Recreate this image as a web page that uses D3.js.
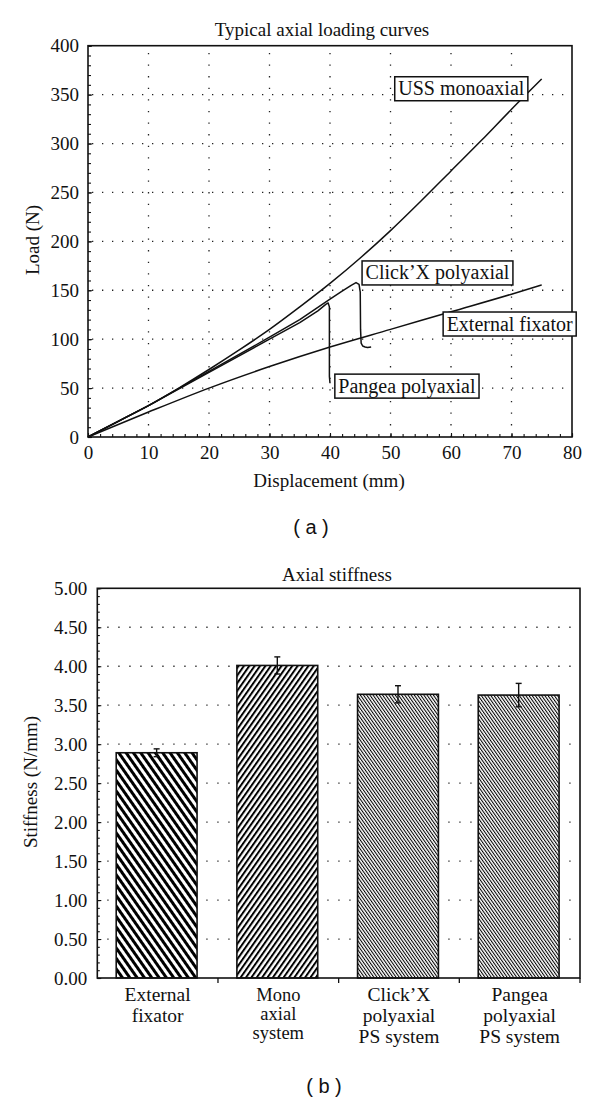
<!DOCTYPE html>
<html><head><meta charset="utf-8">
<script src="https://cdn.jsdelivr.net/npm/d3@7"></script>
<style>
body{margin:0;background:#fff}
svg{display:block}
text{font-family:"Liberation Serif","Times New Roman",serif;fill:#111}
</style>
</head><body>
<svg id="c" width="600" height="1103"></svg>
<script>
// ---------- data: panel (a) ----------
const dispTicks = [0,10,20,30,40,50,60,70,80];
const loadTicks = [0,50,100,150,200,250,300,350,400];

const ussDisp  = [0,5,10,15,20,25,30,35,40,45,50,55,60,65,70,75];
const ussLoad  = [0,16,32,50,69,89,110,133,157,183,211,241,272,303,335,366];

const clickDisp = [0,10,20,30,35,40,42,43.5,44.3,44.8,45.0,45.05,45.15,45.4,45.8,46.2,46.8];
const clickLoad = [0,32,67,102,120,141,149,155,157.8,156,148,110,96,93,92,91.5,92];

const pangeaDisp = [0,10,20,30,35,38,39.3,39.7,39.9,39.9,40.0];
const pangeaLoad = [0,32,66,100,117,129,135.5,137,133,62,55];

const extDisp = [0,10,20,30,40,50,60,70,75];
const extLoad = [0,25.5,50,72,92,110,128,146,155.5];

const curveNames = ["USS monoaxial","Click’X polyaxial","Pangea polyaxial","External fixator"];
// label anchors in data units (left edge mm, vertical centre N)
const labelDisp = [50.7,45.3,40.8,58.7];
const labelLoad = [356,167.7,52,115.5];

// ---------- data: panel (b) ----------
const catLines = [["External","fixator"],["Mono","axial","system"],["Click’X","polyaxial","PS system"],["Pangea","polyaxial","PS system"]];
const categories = catLines.map(l=>l.join(" "));
const stiffness = [2.89,4.01,3.64,3.63];
const stiffErr  = [0.05,0.11,0.11,0.15];
const stiffTicks = [0,0.5,1,1.5,2,2.5,3,3.5,4,4.5,5];

// ---------- drawing ----------
const svg = d3.select("#c");
const serif = "'Liberation Serif','Times New Roman',serif";

// ===== Panel (a) =====
const A = {l:88,r:572,t:45.7,b:437};
const x = d3.scaleLinear().domain([0,80]).range([A.l,A.r]);
const y = d3.scaleLinear().domain([0,400]).range([A.b,A.t]);
const ga = svg.append("g");

// grid
ga.selectAll(".vg").data(dispTicks.filter(t=>t>0&&t<80)).join("line")
  .attr("x1",d=>x(d)).attr("x2",d=>x(d)).attr("y1",A.b).attr("y2",A.t)
  .attr("stroke","#222").attr("stroke-width",1.3).attr("stroke-dasharray","1.3 10.3");
ga.selectAll(".hg").data(loadTicks.filter(t=>t>0&&t<400)).join("line")
  .attr("x1",A.l+4).attr("x2",A.r).attr("y1",d=>y(d)).attr("y2",d=>y(d))
  .attr("stroke","#222").attr("stroke-width",1.3).attr("stroke-dasharray","1.3 8.7");

// axes
const xAxis = ga.append("g").attr("transform",`translate(0,${A.b})`)
  .call(d3.axisBottom(x).tickValues(dispTicks).tickSize(-4).tickPadding(8));
const xMinor = ga.append("g").attr("transform",`translate(0,${A.b})`)
  .call(d3.axisBottom(x).tickValues(d3.range(0,81,2)).tickSize(-3).tickFormat(""));
const yAxis = ga.append("g").attr("transform",`translate(${A.l},0)`)
  .call(d3.axisLeft(y).tickValues(loadTicks).tickSize(-4).tickPadding(9));
const yMinor = ga.append("g").attr("transform",`translate(${A.l},0)`)
  .call(d3.axisLeft(y).tickValues(d3.range(0,401,10)).tickSize(-3).tickFormat(""));
[xAxis,xMinor,yAxis,yMinor].forEach(g=>{
  g.attr("font-family",serif);
  g.select(".domain").remove();
  g.selectAll("line").attr("stroke","#111").attr("stroke-width",1.1);
  g.selectAll("text").attr("font-size",19).attr("fill","#111").style("font-family",serif);
});
xAxis.selectAll("text").attr("dy","0.72em");

ga.append("rect").attr("x",A.l).attr("y",A.t).attr("width",A.r-A.l).attr("height",A.b-A.t)
  .attr("fill","none").attr("stroke","#111").attr("stroke-width",1.6);

// curves
const lineLin = d3.line().x(d=>x(d[0])).y(d=>y(d[1]));
const lineSmooth = d3.line().x(d=>x(d[0])).y(d=>y(d[1])).curve(d3.curveMonotoneX);
const series = [
  {pts:d3.zip(ussDisp,ussLoad),smooth:true},
  {pts:d3.zip(clickDisp,clickLoad),smooth:false},
  {pts:d3.zip(pangeaDisp,pangeaLoad),smooth:false},
  {pts:d3.zip(extDisp,extLoad),smooth:true}
];
ga.selectAll(".curve").data(series).join("path")
  .attr("d",d=> d.smooth ? lineSmooth(d.pts) : lineLin(d.pts))
  .attr("fill","none").attr("stroke","#111").attr("stroke-width",1.5).attr("stroke-linejoin","round");

// labels
curveNames.forEach((name,i)=>{
  const g = ga.append("g");
  const tx = x(labelDisp[i]);
  const cy = y(labelLoad[i]);
  const t = g.append("text").attr("x",tx+3.5).attr("y",cy+6.5).attr("font-size",20).text(name);
  const w = t.node().getComputedTextLength();
  g.insert("rect","text").attr("x",tx).attr("y",cy-12).attr("width",w+7).attr("height",24)
    .attr("fill","#fff").attr("stroke","#111").attr("stroke-width",1.5);
});

// titles
ga.append("text").attr("x",322).attr("y",36).attr("text-anchor","middle").attr("font-size",19)
  .text("Typical axial loading curves");
ga.append("text").attr("x",329).attr("y",487).attr("text-anchor","middle").attr("font-size",19)
  .text("Displacement (mm)");
ga.append("text").attr("transform","translate(39,240) rotate(-90)").attr("text-anchor","middle")
  .attr("font-size",19).text("Load (N)");
ga.append("text").attr("x",311).attr("y",534).attr("text-anchor","middle").attr("font-size",20)
  .style("font-family","'Liberation Sans',Arial,sans-serif").text("( a )");

// ===== Panel (b) =====
const B = {l:97.3,r:580,t:588.3,b:978};
const xb = d3.scaleBand().domain(categories).range([B.l,B.r]).padding(0);
const yb = d3.scaleLinear().domain([0,5]).range([B.b,B.t]);
const gb = svg.append("g");

// patterns
const defs = svg.append("defs");
function hatch(id,size,stripe,angle){
  const p = defs.append("pattern").attr("id",id).attr("patternUnits","userSpaceOnUse")
    .attr("width",size).attr("height",size).attr("patternTransform",`rotate(${angle})`);
  p.append("rect").attr("width",size).attr("height",size).attr("fill","#fff");
  p.append("rect").attr("width",stripe).attr("height",size).attr("fill","#000");
}
hatch("h0",6,3,-35);
hatch("h1",4.4,2,35);
hatch("h2",2.6,1.05,-35);
hatch("h3",2.6,1.05,-35);

// grid
gb.selectAll(".hg").data(stiffTicks.filter(t=>t>0&&t<5)).join("line")
  .attr("x1",B.l+10).attr("x2",B.r).attr("y1",d=>yb(d)).attr("y2",d=>yb(d))
  .attr("stroke","#222").attr("stroke-width",1.3).attr("stroke-dasharray","1.3 9.7");

// bars
const barW = xb.bandwidth()*0.67;
gb.selectAll(".bar").data(categories).join("rect")
  .attr("x",d=>xb(d)+(xb.bandwidth()-barW)/2-1).attr("width",barW)
  .attr("y",(d,i)=>yb(stiffness[i])).attr("height",(d,i)=>yb(0)-yb(stiffness[i]))
  .attr("fill",(d,i)=>`url(#h${i})`).attr("stroke","#111").attr("stroke-width",1.6);

// error bars
categories.forEach((c,i)=>{
  const cx = xb(c)+xb.bandwidth()/2-1;
  const y1 = yb(stiffness[i]+stiffErr[i]), y2 = yb(stiffness[i]-stiffErr[i]);
  const g = gb.append("g").attr("stroke","#111").attr("stroke-width",1.4);
  g.append("line").attr("x1",cx).attr("x2",cx).attr("y1",y1).attr("y2",y2);
  g.append("line").attr("x1",cx-3).attr("x2",cx+3).attr("y1",y1).attr("y2",y1);
  g.append("line").attr("x1",cx-3).attr("x2",cx+3).attr("y1",y2).attr("y2",y2);
});

// axes
const ybAxis = gb.append("g").attr("transform",`translate(${B.l},0)`)
  .call(d3.axisLeft(yb).tickValues(stiffTicks).tickSize(-4).tickPadding(10).tickFormat(d3.format(".2f")));
const ybMinor = gb.append("g").attr("transform",`translate(${B.l},0)`)
  .call(d3.axisLeft(yb).tickValues(d3.range(0,51).map(v=>v/10)).tickSize(-2.5).tickFormat(""));
[ybAxis,ybMinor].forEach(g=>{
  g.attr("font-family",serif);
  g.select(".domain").remove();
  g.selectAll("line").attr("stroke","#111").attr("stroke-width",1.1);
  g.selectAll("text").attr("font-size",19).attr("fill","#111").style("font-family",serif);
});
// category separators
gb.selectAll(".sep").data(categories.slice(1).map(c=>xb(c)).concat([B.r])).join("line")
  .attr("x1",d=>d).attr("x2",d=>d).attr("y1",B.b).attr("y2",B.b+5)
  .attr("stroke","#111").attr("stroke-width",1.3);

gb.append("rect").attr("x",B.l).attr("y",B.t).attr("width",B.r-B.l).attr("height",B.b-B.t)
  .attr("fill","none").attr("stroke","#111").attr("stroke-width",1.6);

// category labels
catLines.forEach((lines,i)=>{
  const cx = xb(categories[i])+xb.bandwidth()/2;
  const gap = lines[0]==="Mono" ? 19 : 21;
  const fs = lines[0]==="Mono" ? 18.5 : 19.5;
  lines.forEach((s,j)=>{
    gb.append("text").attr("x",cx).attr("y",1001+j*gap).attr("text-anchor","middle")
      .attr("font-size",fs).text(s);
  });
});

gb.append("text").attr("x",337).attr("y",581).attr("text-anchor","middle").attr("font-size",19)
  .text("Axial stiffness");
gb.append("text").attr("transform","translate(37,782) rotate(-90)").attr("text-anchor","middle")
  .attr("font-size",19).text("Stiffness (N/mm)");
gb.append("text").attr("x",324).attr("y",1093).attr("text-anchor","middle").attr("font-size",20)
  .style("font-family","'Liberation Sans',Arial,sans-serif").text("( b )");
</script>
</body></html>
